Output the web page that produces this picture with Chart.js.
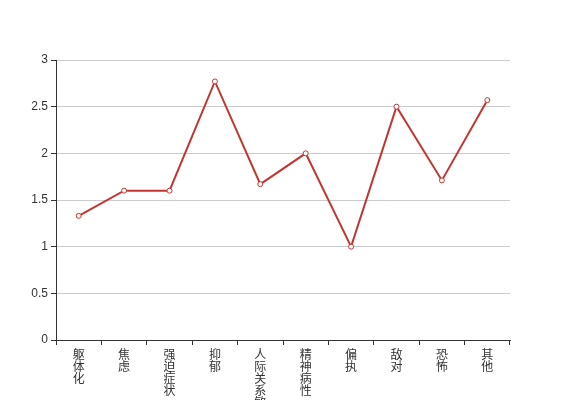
<!DOCTYPE html>
<html>
<head>
<meta charset="utf-8">
<script src="https://cdn.jsdelivr.net/npm/chart.js@4"></script>
<style>
  html, body { margin: 0; padding: 0; background: #fff; overflow: hidden; }
  #wrap { width: 567px; height: 400px; position: relative; }
</style>
</head>
<body>
<div id="wrap"><canvas id="myChart" width="567" height="400"></canvas></div>
<script>
const categories = ['躯体化', '焦虑', '强迫症状', '抑郁', '人际关系敏感', '精神病性', '偏执', '敌对', '恐怖', '其他'];
const scores = [1.33, 1.6, 1.6, 2.77, 1.67, 2.0, 1.0, 2.5, 1.71, 2.57];
const yTicks = [0, 0.5, 1, 1.5, 2, 2.5, 3];

// vertical labels: one character per line
const verticalLabels = categories.map(c => c.split(''));

const ctx = document.getElementById('myChart').getContext('2d');
const myChart = new Chart(ctx, {
    type: 'line',
    data: {
        labels: verticalLabels,
        datasets: [{
            data: scores,
            borderColor: '#c23531',
            backgroundColor: '#fff',
            borderWidth: 2,
            tension: 0,
            pointRadius: 2.5,
            pointBorderWidth: 1,
            pointBorderColor: '#c23531',
            pointBackgroundColor: '#fff'
        }]
    },
    options: {
        responsive: false,
        animation: false,
        layout: { padding: { top: 60, right: 57, left: 0, bottom: 0 } },
        plugins: { legend: { display: false }, tooltip: { enabled: false } },
        scales: {
            x: {
                offset: true,
                grid: {
                    offset: true,
                    drawOnChartArea: false,
                    drawTicks: true,
                    tickLength: 5,
                    tickColor: '#333'
                },
                border: { color: '#333', width: 1 },
                ticks: {
                    maxRotation: 0,
                    minRotation: 0,
                    autoSkip: false,
                    padding: 3,
                    color: '#333',
                    font: { size: 12, family: '"Noto Sans CJK SC", sans-serif', lineHeight: 1.0 }
                },
                afterFit: scale => { scale.height = 60; }
            },
            y: {
                min: 0,
                max: 3,
                afterBuildTicks: axis => { axis.ticks = yTicks.map(v => ({ value: v })); },
                grid: {
                    color: '#ccc',
                    tickColor: '#333',
                    tickLength: 5,
                    drawTicks: true
                },
                border: { color: '#333', width: 1 },
                ticks: {
                    padding: 3,
                    color: '#333',
                    font: { size: 12, family: '"Liberation Sans", sans-serif' },
                    callback: v => String(v)
                },
                afterFit: scale => { scale.width = 56; }
            }
        }
    }
});
</script>
</body>
</html>
